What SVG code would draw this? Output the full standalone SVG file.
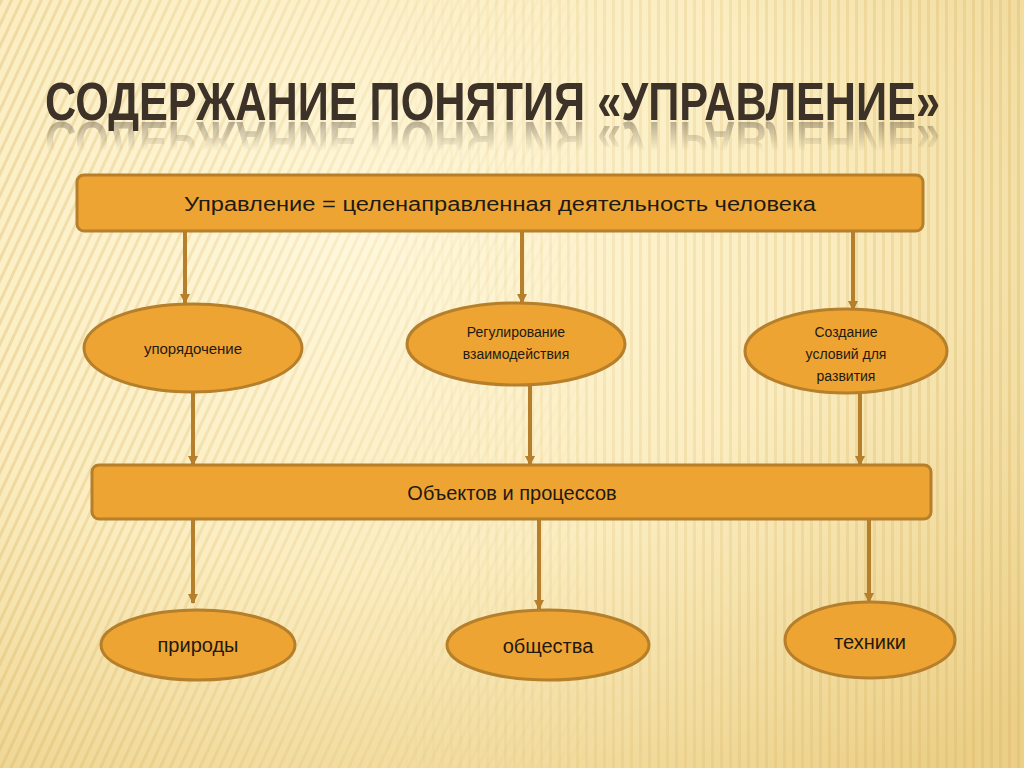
<svg xmlns="http://www.w3.org/2000/svg" width="1024" height="768" viewBox="0 0 1024 768">
<defs>
<radialGradient id="bg" cx="0.35" cy="0.3" r="0.9">
<stop offset="0" stop-color="#FFF8DC"/>
<stop offset="0.5" stop-color="#FBEDC0"/>
<stop offset="1" stop-color="#EBCF86"/>
</radialGradient>
<pattern id="stripesL" width="9" height="9" patternUnits="userSpaceOnUse" patternTransform="rotate(25)">
<rect x="0" y="0" width="3" height="9" fill="#D9B565" opacity="0.35"/>
</pattern>
<pattern id="stripesR" width="9" height="9" patternUnits="userSpaceOnUse">
<rect x="0" y="0" width="3" height="9" fill="#D9B565" opacity="0.3"/>
</pattern>
<linearGradient id="fadeL" x1="0" y1="0" x2="1" y2="0">
<stop offset="0" stop-color="#fff" stop-opacity="1"/>
<stop offset="0.45" stop-color="#fff" stop-opacity="0.3"/>
<stop offset="0.6" stop-color="#fff" stop-opacity="0"/>
</linearGradient>
<linearGradient id="fadeR" x1="0" y1="0" x2="1" y2="0">
<stop offset="0.35" stop-color="#fff" stop-opacity="0"/>
<stop offset="0.6" stop-color="#fff" stop-opacity="0.6"/>
<stop offset="1" stop-color="#fff" stop-opacity="1"/>
</linearGradient>
<mask id="mL"><rect width="1024" height="768" fill="url(#fadeL)"/></mask>
<mask id="mR"><rect width="1024" height="768" fill="url(#fadeR)"/></mask>
<linearGradient id="refl" x1="0" y1="0" x2="0" y2="1">
<stop offset="0" stop-color="#fff" stop-opacity="0.45"/>
<stop offset="1" stop-color="#fff" stop-opacity="0"/>
</linearGradient>
<mask id="mRefl"><rect x="0" y="121" width="1024" height="30" fill="url(#refl)"/></mask>
<linearGradient id="rule" x1="0" y1="0" x2="1" y2="0">
<stop offset="0" stop-color="#E8A33A" stop-opacity="0"/>
<stop offset="0.6" stop-color="#E8A33A" stop-opacity="0.8"/>
<stop offset="1" stop-color="#E8A33A" stop-opacity="1"/>
</linearGradient>
<marker id="arr" viewBox="0 0 10 10" refX="9" refY="5" markerWidth="2.6" markerHeight="2.6" orient="auto" markerUnits="strokeWidth">
<path d="M0,0 L10,5 L0,10 Z" fill="#B57F2B"/>
</marker>
<style>
.node{fill:#EEA432;stroke:#B57F2B;stroke-width:3}
.t{font-family:"Liberation Sans",Arial,sans-serif;fill:#1E1A14;text-anchor:middle}
.conn{stroke:#B57F2B;stroke-width:4;fill:none;marker-end:url(#arr)}
.title{font-family:"Liberation Sans Narrow","Liberation Sans",Arial,sans-serif;font-size:54px;font-weight:bold;fill:#3D3228}
</style>
</defs>

<rect width="1024" height="768" fill="url(#bg)"/>
<rect width="1024" height="768" fill="url(#stripesL)" mask="url(#mL)"/>
<rect width="1024" height="768" fill="url(#stripesR)" mask="url(#mR)"/>

<line x1="380" y1="120" x2="1024" y2="120" stroke="url(#rule)" stroke-width="1.5"/>

<g id="title">
<text id="titleText" class="title" x="45" y="120" textLength="895" lengthAdjust="spacingAndGlyphs">СОДЕРЖАНИЕ ПОНЯТИЯ «УПРАВЛЕНИЕ»</text>
<g mask="url(#mRefl)" opacity="0.8">
<text class="title" x="45" y="120" textLength="895" lengthAdjust="spacingAndGlyphs" transform="translate(0,242) scale(1,-1)">СОДЕРЖАНИЕ ПОНЯТИЯ «УПРАВЛЕНИЕ»</text>
</g>
</g>

<g id="connectors">
<line class="conn" x1="185" y1="232" x2="185" y2="303"/>
<line class="conn" x1="522" y1="232" x2="522" y2="303"/>
<line class="conn" x1="853" y1="232" x2="853" y2="310"/>
<line class="conn" x1="193" y1="393" x2="193" y2="465"/>
<line class="conn" x1="530" y1="385" x2="530" y2="465"/>
<line class="conn" x1="860" y1="393" x2="860" y2="465"/>
<line class="conn" x1="193" y1="520" x2="193" y2="603"/>
<line class="conn" x1="539" y1="513" x2="539" y2="609"/>
<line class="conn" x1="869" y1="520" x2="869" y2="602"/>
</g>

<g id="top">
<rect class="node" x="77" y="175" width="846" height="56" rx="7"/>
<text class="t" x="500" y="211" font-size="20" textLength="632" lengthAdjust="spacingAndGlyphs">Управление = целенаправленная деятельность человека</text>
</g>

<g id="n1">
<ellipse class="node" cx="193" cy="348" rx="109" ry="44"/>
<text class="t" x="193" y="354" font-size="15">упорядочение</text>
</g>
<g id="n2">
<ellipse class="node" cx="516" cy="344" rx="109" ry="41"/>
<text class="t" x="516" y="337" font-size="14">Регулирование</text>
<text class="t" x="516" y="359" font-size="14">взаимодействия</text>
</g>
<g id="n3">
<ellipse class="node" cx="846" cy="351" rx="101" ry="42"/>
<text class="t" x="846" y="337" font-size="14">Создание</text>
<text class="t" x="846" y="359" font-size="14">условий для</text>
<text class="t" x="846" y="381" font-size="14">развития</text>
</g>

<g id="mid">
<rect class="node" x="92" y="465" width="839" height="54" rx="7"/>
<text class="t" x="512" y="500" font-size="20">Объектов и процессов</text>
</g>

<g id="b1">
<ellipse class="node" cx="198" cy="645" rx="97" ry="35"/>
<text class="t" x="198" y="652" font-size="20">природы</text>
</g>
<g id="b2">
<ellipse class="node" cx="548" cy="645" rx="101" ry="35"/>
<text class="t" x="548" y="653" font-size="20">общества</text>
</g>
<g id="b3">
<ellipse class="node" cx="870" cy="640" rx="85" ry="38"/>
<text class="t" x="870" y="649" font-size="20">техники</text>
</g>
</svg>
